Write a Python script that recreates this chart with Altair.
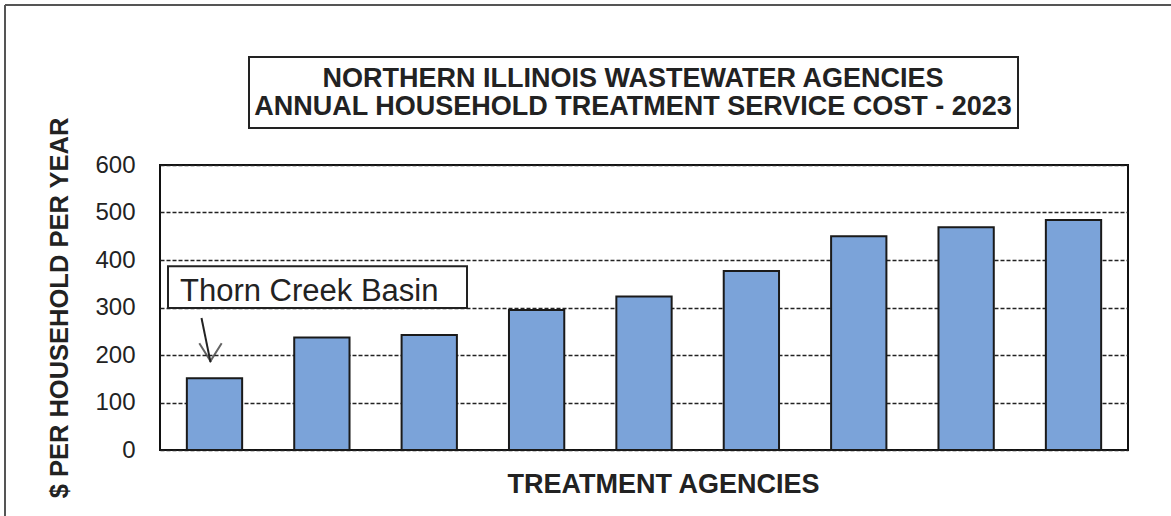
import altair as alt
import pandas as pd

agencies = ["Thorn Creek Basin", "Agency 2", "Agency 3", "Agency 4", "Agency 5",
            "Agency 6", "Agency 7", "Agency 8", "Agency 9"]
costs = [151, 237, 242, 295, 323, 377, 450, 469, 484]
y_ticks = [0, 100, 200, 300, 400, 500, 600]
title_lines = ["NORTHERN ILLINOIS WASTEWATER AGENCIES",
               "ANNUAL HOUSEHOLD TREATMENT SERVICE COST - 2023"]
annot_label = "Thorn Creek Basin"

FONT = "Liberation Sans"
W, H = 968, 285

df = pd.DataFrame({"agency": agencies, "cost": costs})

xenc = alt.X("agency:N", sort=agencies,
             scale=alt.Scale(paddingInner=0.485, paddingOuter=0.25),
             axis=alt.Axis(labels=False, ticks=False, domain=False, grid=False,
                           title="TREATMENT AGENCIES", titleFont=FONT,
                           titleFontSize=27, titleFontWeight="bold", titleColor="#222",
                           titleX=503, titleY=42, titleBaseline="alphabetic"))
yenc = alt.Y("cost:Q", scale=alt.Scale(domain=[0, 600], nice=False),
             axis=alt.Axis(values=y_ticks, ticks=False, domain=False,
                           labelFont=FONT, labelFontSize=24, labelColor="#222",
                           labelPadding=25,
                           grid=True, gridColor="#222", gridDash=[4, 2], gridWidth=1.3,
                           title="$ PER HOUSEHOLD PER YEAR", titleFont=FONT,
                           titleFontSize=25.5, titleFontWeight="bold", titleColor="#222",
                           titleX=-93, titleY=H / 2, titleBaseline="alphabetic", titleAngle=-90))

bars = alt.Chart(df).mark_bar(color="#7BA3D9", stroke="#1a1a1a", strokeWidth=2).encode(
    x=xenc, y=yenc
)

# annotation
ann = pd.DataFrame({"agency": [agencies[0]], "top": [387], "bottom": [299],
                    "label": [annot_label], "ytext": [314],
                    "a_start": [278], "a_end": [185]})

box = alt.Chart(ann).mark_rect(fill="white", stroke="#222", strokeWidth=2).encode(
    x=alt.value(8), x2=alt.value(307),
    y=alt.Y("top:Q"), y2=alt.Y2("bottom:Q")
)
text = alt.Chart(ann).mark_text(font=FONT, fontSize=31, color="#222", align="left",
                                baseline="alphabetic").encode(
    x=alt.value(20), y=alt.Y("ytext:Q"), text="label:N"
)
arrow = alt.Chart(ann).mark_rule(color="#222", strokeWidth=2, xOffset=-13, x2Offset=-4).encode(
    x=alt.X("agency:N", sort=agencies), x2="agency:N",
    y=alt.Y("a_start:Q"), y2="a_end:Q"
)
head = alt.Chart(ann).mark_point(shape="M-1,-1.6L0,0L1,-1.6", filled=False, stroke="#222",
                                 strokeWidth=2, size=500, xOffset=-4, yOffset=-1).encode(
    x=alt.X("agency:N", sort=agencies), y=alt.Y("a_end:Q")
)

# title box above plot
tbox = alt.Chart(pd.DataFrame({"k": [0]})).mark_rect(fill="white", stroke="#222", strokeWidth=2).encode(
    x=alt.value(89), x2=alt.value(858), y=alt.value(-108), y2=alt.value(-37)
)
t1 = alt.Chart(pd.DataFrame({"line": [title_lines[0]]})).mark_text(
    font=FONT, fontSize=27, fontWeight="bold", color="#222", align="center",
    baseline="alphabetic").encode(x=alt.value(473), y=alt.value(-78), text="line:N")
t2 = alt.Chart(pd.DataFrame({"line": [title_lines[1]]})).mark_text(
    font=FONT, fontSize=27, fontWeight="bold", color="#222", align="center",
    baseline="alphabetic").encode(x=alt.value(473), y=alt.value(-50), text="line:N")

# outer page border (top and left)
border_top = alt.Chart(pd.DataFrame({"k": [0]})).mark_rule(color="#555", strokeWidth=2).encode(
    x=alt.value(-155), x2=alt.value(1011), y=alt.value(-160))
border_left = alt.Chart(pd.DataFrame({"k": [0]})).mark_rule(color="#555", strokeWidth=2).encode(
    x=alt.value(-155), y=alt.value(-160), y2=alt.value(351))

chart = alt.layer(bars, box, text, arrow, head, tbox, t1, t2, border_top, border_left).properties(
    width=W, height=H,
    autosize=alt.AutoSizeParams(type="none"),
    padding={"left": 160, "top": 165, "right": 43, "bottom": 66},
    background="white"
).configure_view(stroke="#111", strokeWidth=2)

chart.save("out.html", embed_options={"renderer": "svg", "actions": False})
